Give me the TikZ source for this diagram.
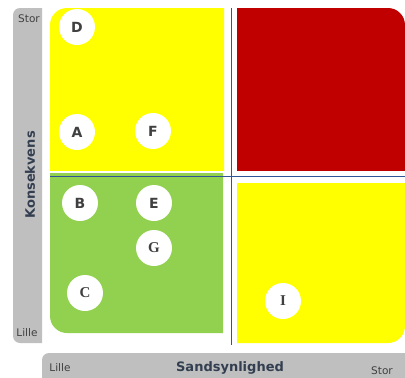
\documentclass[tikz,border=0pt]{standalone}
\usepackage{fontspec}
\setmainfont{DejaVu Sans}
\newfontfamily\serifletter{Liberation Serif}
\usetikzlibrary{positioning}
\definecolor{riskyellow}{HTML}{FFFF00}
\definecolor{riskred}{HTML}{C00000}
\definecolor{riskgreen}{HTML}{92D050}
\definecolor{axisgray}{HTML}{BFBFBF}
\definecolor{axisline}{HTML}{2F5597}
\definecolor{labeltext}{HTML}{404040}
\definecolor{titletext}{HTML}{333F50}

\begin{document}
\begin{tikzpicture}[x=1pt, y=-1pt,
  zone/.style={rounded corners=17pt},
  bar/.style={fill=axisgray, rounded corners=7pt},
  event/.style={circle, fill=white, minimum size=36pt, inner sep=0pt, text=labeltext,
    font=\fontsize{14}{14}\selectfont\bfseries},
  eventserif/.style={event, font=\fontsize{15}{15}\selectfont\serifletter\bfseries},
  axisname/.style={text=titletext, font=\fontsize{13}{14}\selectfont\bfseries},
  endlab/.style={text=labeltext, font=\fontsize{10.5}{11}\selectfont},
  divider/.style={draw=axisline, line width=1.1pt}]
\useasboundingbox (0,0) rectangle (405,378);

% axis bars
\begin{scope}
  \clip (13,8) rectangle (42,343);
  \fill[bar] (13,8) rectangle (60,343);
\end{scope}
\begin{scope}
  \clip (42,353) rectangle (405,378);
  \fill[bar] (42,353) rectangle (420,395);
\end{scope}

% risk zones
\begin{scope}
  \clip (50,8) rectangle (224,170);
  \fill[riskyellow, zone] (50,8) rectangle (260,200);
\end{scope}
\begin{scope}
  \clip (237,8) rectangle (405,170);
  \fill[riskred, zone] (200,8) rectangle (405,200);
\end{scope}
\begin{scope}
  \clip (50,173) rectangle (223,333);
  \fill[riskgreen, zone] (50,140) rectangle (260,333);
\end{scope}
\begin{scope}
  \clip (237,183) rectangle (405,343);
  \fill[riskyellow, zone] (200,150) rectangle (405,343);
\end{scope}

% dividing lines
\coordinate (vtop) at (231.7,8);
\coordinate (vbot) at (231.7,345);
\coordinate (hleft) at (50,176.5);
\coordinate (hright) at (405,176.5);
\draw[divider] (vtop) -- (vbot);
\draw[divider] (hleft) -- (hright);

% axis texts
\node[endlab] (ystor) at (29,19) {Stor};
\node[endlab] (ylille) at (27,333) {Lille};
\node[axisname, rotate=90] (yname) at (30,175) {Konsekvens};
\node[endlab] (xlille) at (60,368) {Lille};
\node[axisname] (xname) at (230,368) {Sandsynlighed};
\node[endlab] (xstor) at (382,371) {Stor};

% events
\node[event] (D) at (77,27) {D};
\node[event] (A) at (77,132) {A};
\node[event] (F) at (153,131) {F};
\node[event] (B) at (80,203) {B};
\node[event] (E) at (154,203) {E};
\node[eventserif] (G) at (154,248) {G};
\node[eventserif] (C) at (85,293) {C};
\node[eventserif] (I) at (283,301) {I};
\end{tikzpicture}
\end{document}
